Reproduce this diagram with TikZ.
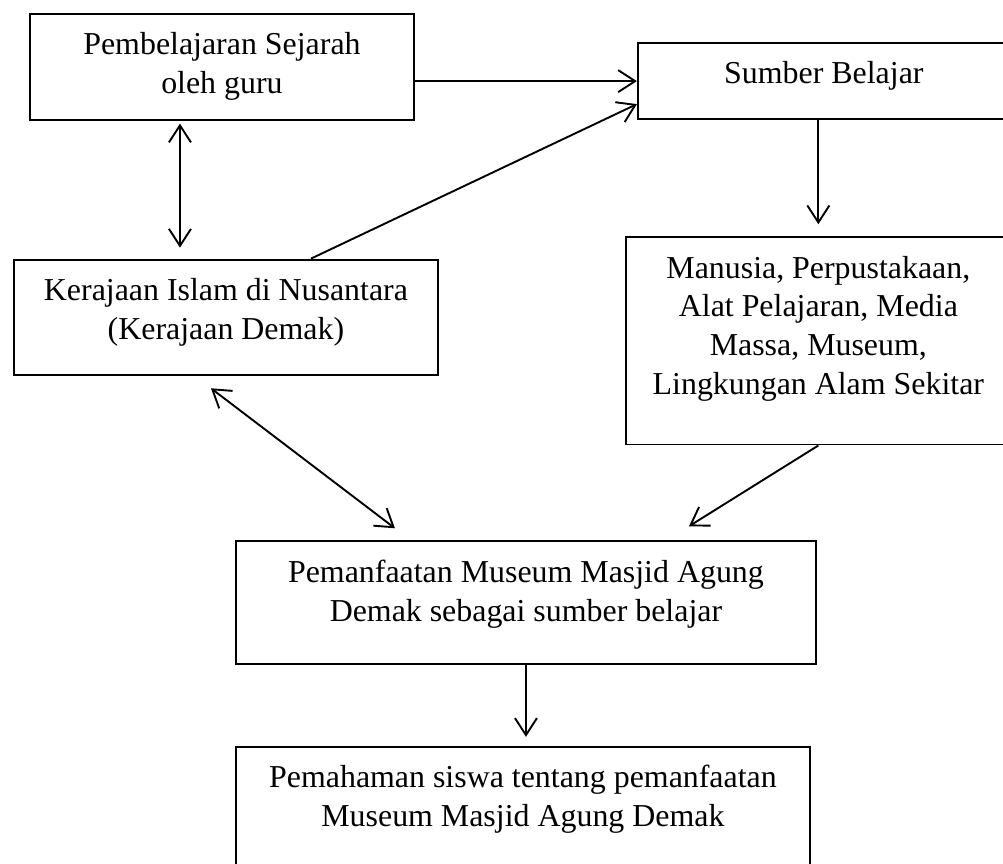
\documentclass[tikz,border=0pt]{standalone}
\usepackage{fontspec}
\setmainfont{Liberation Serif}
\usetikzlibrary{arrows.meta, positioning}

\begin{document}
\begin{tikzpicture}[
    x=1pt, y=-1pt,
    box/.style={draw, line width=1.9pt, align=center, anchor=north west, inner xsep=6pt, inner ysep=18.7pt, font=\fontsize{31.9pt}{38.7pt}\selectfont},
    arrow/.style={line width=1.9pt, -{Straight Barb[length=17pt, width=22pt, line width=1.9pt]}},
    biarrow/.style={line width=1.9pt, {Straight Barb[length=17pt, width=22pt, line width=1.9pt]}-{Straight Barb[length=17pt, width=22pt, line width=1.9pt]}}
]
\useasboundingbox (0,0) rectangle (1003,863);

\node[box, minimum width=384pt, text depth=7.5pt] (guru) at (29,13) {Pembelajaran Sejarah\\oleh guru};
\node[box, minimum width=372pt, text depth=16.8pt, right=222pt of guru.north east, anchor=north west, yshift=-29pt] (sumber) {Sumber Belajar};
\node[box, minimum width=424pt, text depth=17.5pt, below=138pt of guru.south west, anchor=north west, xshift=-16pt] (kerajaan) {Kerajaan Islam di Nusantara\\(Kerajaan Demak)};
\node[box, minimum width=385pt, text depth=31.7pt, below=116pt of sumber.south west, anchor=north west, xshift=-12pt] (manusia) {Manusia, Perpustakaan,\\Alat Pelajaran, Media\\Massa, Museum,\\Lingkungan Alam Sekitar};
\node[box, minimum width=580pt, text depth=24.1pt, below=164pt of kerajaan.south west, anchor=north west, xshift=222pt] (pemanfaatan) {Pemanfaatan Museum Masjid Agung\\Demak sebagai sumber belajar};
\node[box, minimum width=574pt, text depth=60pt, below=81pt of pemanfaatan.south west, anchor=north west] (pemahaman) {Pemahaman siswa tentang pemanfaatan\\Museum Masjid Agung Demak};

\draw[arrow] (guru.east |- sumber.west) -- (sumber.west);
\draw[biarrow, shorten <=3pt, shorten >=11pt] ([xshift=-42pt]guru.south) -- ([xshift=-42pt]guru.south |- kerajaan.north);
\draw[arrow] ([xshift=85pt]kerajaan.north) -- ([yshift=-23pt]sumber.west);
\draw[arrow, shorten >=12pt] (sumber.south -| manusia.north) -- (manusia.north);
\draw[biarrow] ([xshift=-15pt, yshift=-12pt]kerajaan.south) -- ([xshift=-131pt, yshift=12pt]pemanfaatan.north);
\draw[arrow] (manusia.south) -- ([xshift=163pt, yshift=14pt]pemanfaatan.north);
\draw[arrow, shorten >=9pt] (pemanfaatan.south) -- (pemanfaatan.south |- pemahaman.north);
\end{tikzpicture}
\end{document}
